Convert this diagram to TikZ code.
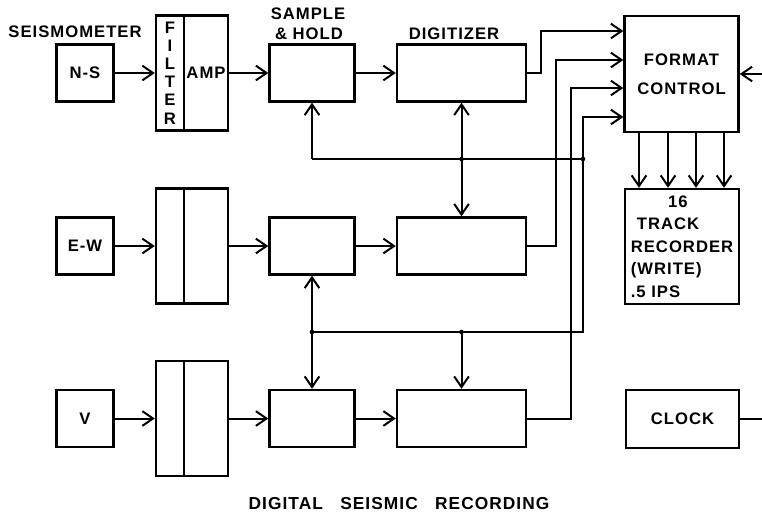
\documentclass[tikz,border=0pt]{standalone}
\usepackage{fontspec}
\setmainfont{Liberation Sans}[LetterSpace=6]
\usetikzlibrary{arrows.meta}
\newcommand\lettr{\fontsize{12.5}{15}\selectfont\bfseries}
\tikzset{
  blk/.style={draw,line width=1.8pt,inner sep=0pt,font=\lettr},
  sensor/.style={blk,minimum width=42.75pt,minimum height=42.75pt},
  filterbox/.style={blk,minimum width=21pt,minimum height=86.25pt},
  ampbox/.style={blk,minimum width=33pt,minimum height=86.25pt},
  shbox/.style={blk,minimum width=63.75pt,minimum height=42.75pt},
  digbox/.style={blk,minimum width=96.75pt,minimum height=42.75pt},
  bigbox/.style={blk,minimum width=85.5pt,minimum height=87pt},
  lbl/.style={font=\lettr,inner sep=0pt},
  wire/.style={line width=1.5pt},
  arr/.style={wire,-{Straight Barb[length=8pt,width=11pt,line width=1.5pt]}},
  twoway/.style={wire,{Straight Barb[length=8pt,width=11pt,line width=1.5pt]}-{Straight Barb[length=8pt,width=11pt,line width=1.5pt]}},
  dot/.style={circle,fill,inner sep=0pt,minimum size=3.5pt}
}
\begin{document}
\begin{tikzpicture}[x=0.75pt,y=-0.75pt]
\useasboundingbox (0,0) rectangle (762,515);
% sensors
\node[lbl] (seis) at (75,32) {SEISMOMETER};
\node[sensor] (ns) at (85,73) {N-S};
\node[sensor] (ew) at (85,246) {E-W};
\node[sensor] (v) at (85,418.5) {V};
% filter / amp
\node[filterbox,align=center,font=\fontsize{12.5}{13.6}\selectfont\bfseries] (filt1) at (170,73) {F\\I\\L\\T\\E\\R};
\node[ampbox] (amp1) at (206,73) {AMP};
\node[filterbox] (filt2) at (170,246) {};
\node[ampbox] (amp2) at (206,246) {};
\node[filterbox] (filt3) at (170,418.5) {};
\node[ampbox] (amp3) at (206,418.5) {};
% sample & hold, digitizers
\node[lbl] (smp) at (308,13.5) {SAMPLE};
\node[lbl] (hold) at (309,33.5) {\& HOLD};
\node[lbl] (dgl) at (454,33.5) {DIGITIZER};
\node[shbox] (sh1) at (312,73) {};
\node[shbox] (sh2) at (312,246) {};
\node[shbox] (sh3) at (312,418.5) {};
\node[digbox] (dg1) at (461.5,73) {};
\node[digbox] (dg2) at (461.5,246) {};
\node[digbox] (dg3) at (461.5,418.5) {};
% right column
\node[bigbox,align=center,font=\fontsize{12.5}{21.75}\selectfont\bfseries] (fmt) at (681.5,74) {FORMAT\\CONTROL};
\node[bigbox,minimum height=86.25pt,align=left,font=\fontsize{12.5}{16.9}\selectfont\bfseries] (rec) at (682,246.5)
  {\hspace*{28pt}16\\\hspace*{4.5pt}TRACK\\RECORDER\\(WRITE)\\.5 IPS};
\node[blk,minimum width=84.75pt,minimum height=43.5pt] (clock) at (682.5,419) {CLOCK};
\coordinate (fmtin) at (762,74);
\coordinate (clkout) at (762,419);
% bus points
\coordinate (b1l) at (312,159);
\coordinate (j1) at (461.5,159);
\coordinate (b1r) at (583,159);
\coordinate (b2l) at (312,332);
\coordinate (j2) at (461.5,332);
\coordinate (b2r) at (583,332);

\draw[arr] (ns) -- (filt1);
\draw[arr] (amp1) -- (sh1);
\draw[arr] (sh1) -- (dg1);
\draw[arr] (ew) -- (filt2);
\draw[arr] (amp2) -- (sh2);
\draw[arr] (sh2) -- (dg2);
\draw[arr] (v) -- (filt3);
\draw[arr] (amp3) -- (sh3);
\draw[arr] (sh3) -- (dg3);

\draw[arr] (dg1.east) -- ++(14,0) |- (fmt.west |- 0,31);
\draw[arr] (dg2.east) -- ++(29,0) |- (fmt.west |- 0,60);
\draw[arr] (dg3.east) -- ++(44,0) |- (fmt.west |- 0,88);

\draw[wire] (b1l) -- (b1r);
\draw[arr] (b1l) -- (sh1.south);
\draw[twoway] (dg1.south) -- (dg2.north);
\draw[twoway] (sh2.south) -- (sh3.north);
\draw[arr] (j2) -- (dg3.north);
\draw[arr] (b2l) -- (b2r) |- (fmt.west |- 0,117);
\node[dot] at (j1) {};
\node[dot] at (b1r) {};
\node[dot] at (b2l) {};
\node[dot] at (j2) {};

\foreach \x in {639,668,696,724}
  \draw[arr] (\x,0 |- fmt.south) -- (\x,0 |- rec.north);
\draw[arr] (fmtin) -- (fmt.east);
\draw[wire] (clock.east) -- (clkout);

\node[lbl,font=\fontsize{13}{15}\selectfont\bfseries] (title) at (399,504) {DIGITAL\quad SEISMIC\quad RECORDING};
\end{tikzpicture}
\end{document}
